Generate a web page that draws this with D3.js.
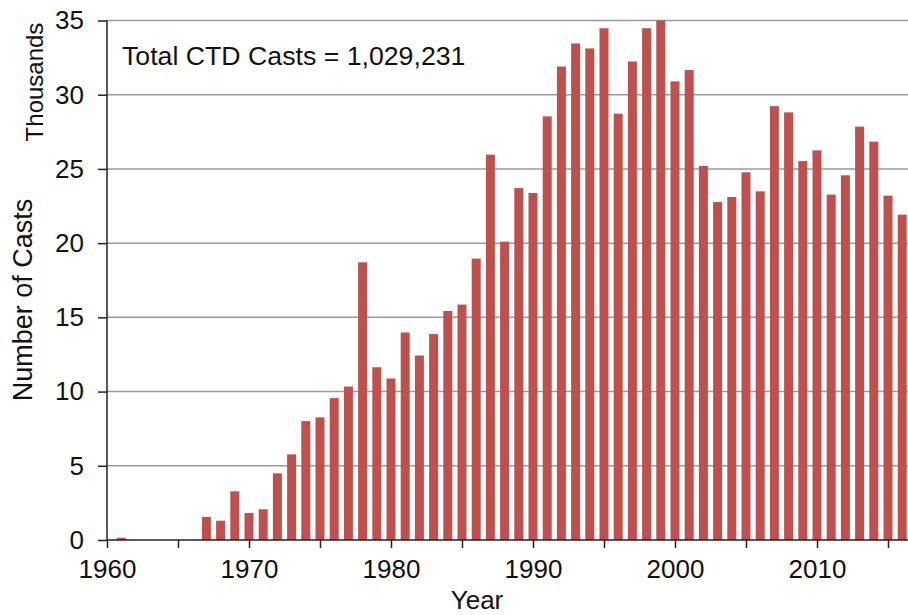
<!DOCTYPE html>
<html>
<head>
<meta charset="utf-8">
<script src="https://cdn.jsdelivr.net/npm/d3@7"></script>
<style>
  body { margin: 0; background: #fff; }
  svg { display: block; font-family: "Liberation Sans", Arial, sans-serif; }
</style>
</head>
<body>
<div id="chart"></div>
<script>
// CTD casts per year, in thousands
var years = d3.range(1960, 2017);
var casts = [
  0, 0.15, 0, 0, 0, 0, 0, 1.55, 1.3, 3.28,
  1.82, 2.07, 4.49, 5.77, 8.01, 8.26, 9.56, 10.34, 18.71, 11.64,
  10.88, 13.98, 12.43, 13.87, 15.43, 15.86, 18.96, 25.96, 20.1, 23.71,
  23.38, 28.54, 31.9, 33.45, 33.12, 34.48, 28.72, 32.24, 34.48, 35.0,
  30.9, 31.66, 25.2, 22.77, 23.11, 24.77, 23.49, 29.23, 28.81, 25.53,
  26.25, 23.27, 24.57, 27.85, 26.84, 23.2, 21.92
];
var yTicks = [0, 5, 10, 15, 20, 25, 30, 35];
var xTicks = d3.range(1960, 2020, 5);
var xLabels = [1960, 1970, 1980, 1990, 2000, 2010];
var note = "Total CTD Casts = 1,029,231";

(function() {
var W = 908, H = 615;
var plotLeft = 107, plotBottom = 540, plotTop = 20.5;
var perYear = 14.2;

var data = years.map(function(yr, i) { return { year: yr, value: casts[i] }; });

var x = d3.scaleLinear().domain([1960, 2020]).range([plotLeft, plotLeft + 60 * perYear]);
var y = d3.scaleLinear().domain([0, 35]).range([plotBottom, plotTop]);

var svg = d3.select("#chart").append("svg")
  .attr("width", W).attr("height", H);

// gridlines
svg.append("g").selectAll("line")
  .data(yTicks.filter(function(d) { return d > 0; }))
  .enter().append("line")
  .attr("x1", plotLeft).attr("x2", W)
  .attr("y1", function(d) { return y(d); })
  .attr("y2", function(d) { return y(d); })
  .attr("stroke", "#9a9a9a")
  .attr("stroke-width", 1.5);

// bars
var bw = 9;
svg.append("g").selectAll("rect")
  .data(data.filter(function(d) { return d.value > 0; }))
  .enter().append("rect")
  .attr("x", function(d) { return x(d.year) - bw / 2; })
  .attr("width", bw)
  .attr("y", function(d) { return y(d.value); })
  .attr("height", function(d) { return plotBottom - y(d.value); })
  .attr("fill", "#C0504D");

// y axis
var yAxis = d3.axisLeft(y).tickValues(yTicks).tickSize(9).tickPadding(14)
  .tickFormat(d3.format("d"));
var gy = svg.append("g").attr("transform", "translate(" + plotLeft + ",0)").call(yAxis);
gy.select(".domain").attr("stroke", "#222").attr("stroke-width", 1.5)
  .attr("d", "M0," + plotTop + "V" + plotBottom);
gy.selectAll(".tick line").attr("stroke", "#222").attr("stroke-width", 1.5);
gy.selectAll(".tick text").attr("font-size", "26px").attr("fill", "#111")
  .attr("font-family", "Liberation Sans, Arial, sans-serif");

// x axis
var xAxis = d3.axisBottom(x).tickValues(xTicks).tickSize(8).tickPadding(12)
  .tickFormat(function(d) { return xLabels.indexOf(d) >= 0 ? d : ""; });
var gx = svg.append("g").attr("transform", "translate(0," + plotBottom + ")").call(xAxis);
gx.select(".domain").attr("stroke", "#222").attr("stroke-width", 1.5)
  .attr("d", "M" + plotLeft + ",0H" + W);
gx.selectAll(".tick line").attr("stroke", "#222").attr("stroke-width", 1.5);
gx.selectAll(".tick text").attr("font-size", "26px").attr("fill", "#111")
  .attr("font-family", "Liberation Sans, Arial, sans-serif");

// titles
svg.append("text")
  .attr("transform", "translate(43,82) rotate(-90)")
  .attr("text-anchor", "middle")
  .attr("font-size", "24px").attr("fill", "#111")
  .text("Thousands");

svg.append("text")
  .attr("transform", "translate(32,300) rotate(-90)")
  .attr("text-anchor", "middle")
  .attr("font-size", "27px").attr("fill", "#111")
  .text("Number of Casts");

svg.append("text")
  .attr("x", 477).attr("y", 609)
  .attr("text-anchor", "middle")
  .attr("font-size", "26px").attr("fill", "#111")
  .text("Year");

svg.append("text")
  .attr("x", 122).attr("y", 65)
  .attr("font-size", "26.7px").attr("fill", "#111")
  .text(note);
})();
</script>
</body>
</html>
